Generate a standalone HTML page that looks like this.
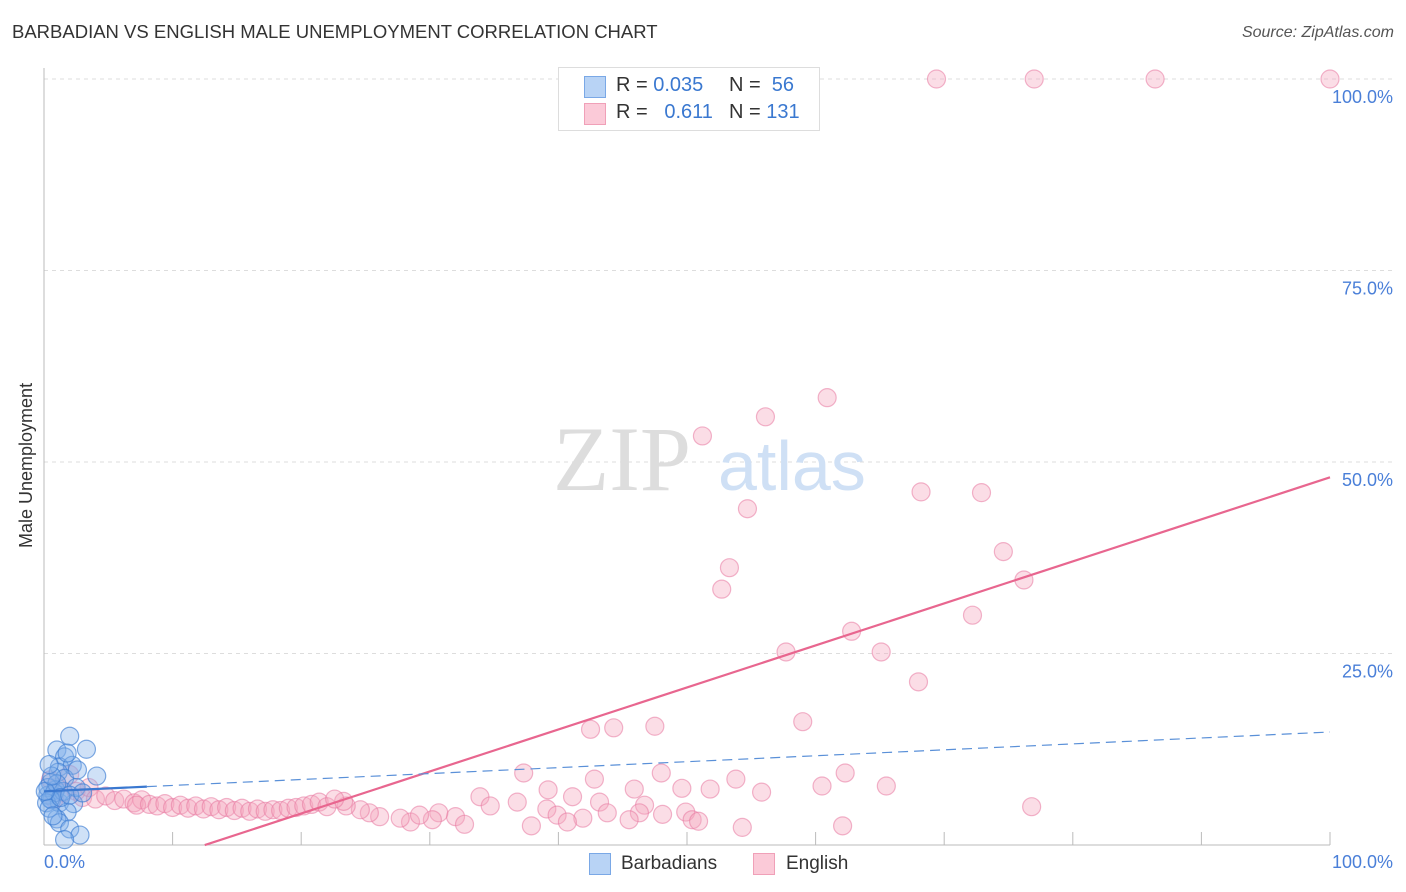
<!DOCTYPE html>
<html><head><meta charset="utf-8">
<style>
body{margin:0;background:#fff;font-family:"Liberation Sans",sans-serif;}
#wrap{position:relative;width:1406px;height:892px;overflow:hidden;}
.t{position:absolute;white-space:nowrap;}
</style></head>
<body>
<div id="wrap">
<div class="t" style="left:12px;top:21px;font-size:18.5px;color:#333;">BARBADIAN VS ENGLISH MALE UNEMPLOYMENT CORRELATION CHART</div>
<div class="t" style="right:12px;top:24px;font-size:16px;color:#555;font-style:italic;">Source: ZipAtlas.com</div>
<svg id="svg" width="1406" height="892" style="position:absolute;left:0;top:0"></svg>
</div>
<script>
const yTicks=[25,50,75,100];
const yTickLabels=["25.0%","50.0%","75.0%","100.0%"];
const xTickVals=[10,20,30,40,50,60,70,80,90,100];
const blueX=[2.0,3.3,1.0,1.6,1.2,2.2,4.1,1.1,1.6,0.5,0.9,0.3,0.6,1.2,2.3,1.8,1.0,1.2,2.0,2.8,1.6,0.3,0.8,0.2,1.5,0.5,1.0,2.5,0.4,0.7,1.3,2.0,0.1,3.0,2.6,0.6,1.8,0.4];
const blueY=[14.2,12.5,12.4,11.5,10.2,10.4,9.0,9.5,8.7,8.1,7.2,6.5,5.9,5.5,5.4,4.3,3.4,2.9,2.1,1.3,0.7,7.5,6.8,5.5,7.0,6.0,8.0,7.5,4.8,3.8,6.2,6.5,7.0,6.8,9.8,9.0,12.0,10.5];
const pinkX=[69.4,77.0,86.4,100,56.1,60.9,51.2,68.2,72.9,54.7,74.6,53.3,52.7,76.2,72.2,62.8,65.1,57.7,68.0,59.0,42.5,44.3,47.5,37.3,42.8,48.0,62.3,53.8,60.5,65.5,45.9,49.6,51.8,55.8,39.2,41.1,43.2,46.7,76.8,33.9,34.7,36.8,39.1,39.9,43.8,46.3,48.1,49.9,50.4,45.5,41.9,37.9,40.7,50.9,54.3,62.1,32.0,32.7,30.7,30.2,28.5,29.2,27.7,26.1,25.3,24.6,23.5,23.3,
0.5,1.0,1.5,2.0,2.5,3.0,0.8,3.5,4.0,4.8,5.5,6.2,7.0,7.6,7.2,8.2,8.8,9.4,10.0,10.6,11.2,11.8,12.4,13.0,13.6,14.2,14.8,15.4,16.0,16.6,17.2,17.8,18.4,19.0,19.6,20.2,20.8,21.4,22.0,22.6];
const pinkY=[100,100,100,100,55.9,58.4,53.4,46.1,46.0,43.9,38.3,36.2,33.4,34.6,30.0,27.9,25.2,25.2,21.3,16.1,15.1,15.3,15.5,9.4,8.6,9.4,9.4,8.6,7.7,7.7,7.3,7.4,7.3,6.9,7.2,6.3,5.6,5.2,5.0,6.3,5.1,5.6,4.7,3.9,4.2,4.2,4.0,4.3,3.3,3.3,3.5,2.5,3.0,3.1,2.3,2.5,3.7,2.7,4.2,3.3,3.0,3.9,3.5,3.7,4.2,4.6,5.1,5.7,
8.5,7.5,6.8,9.2,7.0,6.2,6.0,7.5,6.0,6.4,5.8,6.0,5.5,5.9,5.2,5.3,5.1,5.4,4.9,5.2,4.8,5.1,4.7,5.0,4.6,4.9,4.5,4.8,4.4,4.7,4.4,4.6,4.5,4.8,4.9,5.1,5.3,5.6,5.0,6.0];
const blueTrend=[7.0,14.75];
const pinkTrend=[-6.86,48.0];

const X0=44,X1=1330,Y0=845,Y1=79;
const sx=v=>X0+(X1-X0)*v/100, sy=v=>Y0-(Y0-Y1)*v/100;
const svg=document.getElementById('svg');const NS='http://www.w3.org/2000/svg';
function mk(t,a){const e=document.createElementNS(NS,t);for(const k in a)e.setAttribute(k,a[k]);svg.appendChild(e);return e;}
yTicks.forEach((v,i)=>{
 const g=mk('line',{x1:X0,x2:1395,y1:sy(v),y2:sy(v),stroke:'#ddd','stroke-dasharray':'4,4'});
 
 
 const t=mk('text',{x:1393,y:sy(v)+24,'text-anchor':'end',fill:'#4a7fd8','font-size':18,'font-family':'Liberation Sans, sans-serif'});
 t.textContent=yTickLabels[i];
 
 
});
const ax=mk('line',{x1:X0,x2:X0,y1:68,y2:Y0,stroke:'#bbb'});


const bx=mk('line',{x1:X0,x2:X1,y1:Y0,y2:Y0,stroke:'#bbb'});


xTickVals.forEach(v=>{const l=mk('line',{x1:sx(v),x2:sx(v),y1:Y0-13,y2:Y0,stroke:'#bbb'});
 
 });
const w1=mk('text',{x:553,y:490,fill:'#ddd','font-size':92,'font-family':'Liberation Serif, serif'});w1.textContent='ZIP';


const w2=mk('text',{x:718,y:490,fill:'#cfe0f5','font-size':70,'font-family':'Liberation Sans, sans-serif'});w2.textContent='atlas';


pinkX.forEach((x,i)=>{const c=mk('circle',{cx:sx(x),cy:sy(pinkY[i]),r:9,fill:'rgba(244,165,190,0.38)',stroke:'rgba(232,120,160,0.55)','stroke-width':1.2});
 
 });
blueX.forEach((x,i)=>{const c=mk('circle',{cx:sx(x),cy:sy(blueY[i]),r:9,fill:'rgba(130,175,235,0.38)',stroke:'rgba(60,125,210,0.65)','stroke-width':1.2});
 
 });
const pxs=12.5;
const pl=mk('line',{x1:sx(pxs),y1:sy(pinkTrend[0]+(pinkTrend[1]-pinkTrend[0])*pxs/100),x2:sx(100),y2:sy(pinkTrend[1]),stroke:'#e8668f','stroke-width':2.2});


const by=v=>blueTrend[0]+(blueTrend[1]-blueTrend[0])*v/100;
const bl=mk('line',{x1:sx(0),y1:sy(by(0)),x2:sx(8),y2:sy(by(8)),stroke:'#3a78d0','stroke-width':2.2});


const bd=mk('line',{x1:sx(8),y1:sy(by(8)),x2:sx(100),y2:sy(by(100)),stroke:'#5a90d8','stroke-width':1.2,'stroke-dasharray':'10,6'});


</script>
<div class="t" style="left:44px;top:852px;font-size:18px;color:#4a7fd8;">0.0%</div>
<div class="t" style="right:13px;top:852px;font-size:18px;color:#4a7fd8;">100.0%</div>
<div class="t" style="font-size:18px;color:#333;transform:rotate(-90deg);transform-origin:0 0;top:548px;left:16px;">Male Unemployment</div>
<div style="position:absolute;left:558px;top:67px;width:260px;height:62px;border:1px solid #ddd;background:#fff;font-size:20px;">
 <div style="position:absolute;left:25px;top:8px;width:20px;height:20px;background:#b8d3f5;border:1px solid #7aa8e6;"></div>
 <div class="t" style="left:57px;top:6px;color:#333">R = <span style="color:#3a78d0">0.035</span></div>
 <div class="t" style="left:170px;top:6px;color:#333">N = <span style="color:#3a78d0">&nbsp;56</span></div>
 <div style="position:absolute;left:25px;top:35px;width:20px;height:20px;background:#fbcad8;border:1px solid #f0a0b8;"></div>
 <div class="t" style="left:57px;top:33px;color:#333">R = &nbsp;&nbsp;<span style="color:#3a78d0">0.611</span></div>
 <div class="t" style="left:170px;top:33px;color:#333">N = <span style="color:#3a78d0">131</span></div>
</div>
<div style="position:absolute;left:589px;top:853px;width:20px;height:20px;background:#b8d3f5;border:1px solid #7aa8e6;"></div>
<div class="t" style="left:621px;top:853px;font-size:19px;color:#333">Barbadians</div>
<div style="position:absolute;left:753px;top:853px;width:20px;height:20px;background:#fbcad8;border:1px solid #f0a0b8;"></div>
<div class="t" style="left:786px;top:853px;font-size:19px;color:#333">English</div>
</body></html>
